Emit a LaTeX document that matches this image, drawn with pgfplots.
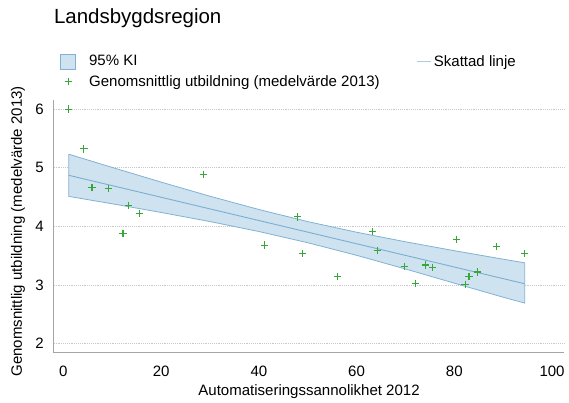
\documentclass[border=0pt]{standalone}
\usepackage{fontspec}
\setmainfont{Liberation Sans}
\usepackage{pgfplots}
\pgfplotsset{compat=1.18}

\definecolor{bandfill}{RGB}{207,226,239}
\definecolor{bandedge}{RGB}{128,178,213}
\definecolor{fitline}{RGB}{125,175,210}
\definecolor{legline}{RGB}{170,205,230}
\definecolor{dotgreen}{RGB}{55,165,55}
\definecolor{gridgray}{RGB}{200,200,200}
\definecolor{axisgray}{RGB}{165,165,165}

\begin{document}
\begin{tikzpicture}
\begin{axis}[
  scale only axis,
  width=384pt, height=190.5pt,
  xmin=-1.96, xmax=102.5,
  ymin=1.84, ymax=6.16,
  axis x line=bottom, axis y line=left,
  axis line style={-, axisgray, line width=0.8pt},
  xtick={0,20,40,60,80,100},
  ytick={2,3,4,5,6},
  major tick length=0pt,
  ymajorgrids,
  grid style={gridgray, densely dotted, line width=0.6pt},
  tick label style={font=\fontsize{11.3}{13}\selectfont, black},
  xticklabel style={yshift=-6pt},
  yticklabel style={xshift=-4pt},
  /pgf/number format/assume math mode=true,
  xlabel={Automatiseringssannolikhet 2012},
  ylabel={Genomsnittlig utbildning (medelvärde 2013)},
  every axis x label/.style={at={(rel axis cs:0.5,0)}, yshift=-29pt,
    anchor=center, font=\fontsize{11.3}{13}\selectfont},
  every axis y label/.style={at={(rel axis cs:0,0.48)}, xshift=-27pt,
    rotate=90, anchor=center, font=\fontsize{11.3}{13}\selectfont},
  legend columns=2,
  legend cell align=left,
  legend style={draw=none, fill=none, inner sep=0pt, outer sep=0pt,
    at={(rel axis cs:0,1)}, anchor=north west, xshift=5pt, yshift=35.5pt,
    font=\fontsize{11.3}{13}\selectfont,
    /tikz/every even column/.append style={column sep=26pt},
    row sep=1.5pt},
  clip=false,
]
% 95% confidence band
\addplot[fill=bandfill, draw=bandedge, line width=0.6pt,
  legend image code/.code={
    \draw[fill=bandfill, draw=bandedge, line width=0.5pt]
      (0pt,-5.5pt) rectangle (11pt,5.5pt);
    \path (19pt,0pt);}]
  coordinates {
  (1.1,5.23) (10,5.004) (20,4.754) (30,4.513) (40,4.287) (50,4.080)
  (60,3.899) (70,3.736) (80,3.584) (90,3.439) (94.4,3.377)
  (94.4,2.69) (90,2.79) (80,3.03) (70,3.272) (60,3.505) (50,3.720)
  (40,3.911) (30,4.081) (20,4.236) (10,4.384) (1.1,4.51) (1.1,5.23)
  };
\addlegendentry{95\% KI}
% fitted line
\addplot[fitline, line width=0.7pt, no marks,
  legend image code/.code={
    \draw[legline, line width=0.8pt] (0pt,0pt) -- (10pt,0pt);}]
  coordinates {(1.1,4.87) (94.4,3.02)};
\addlegendentry{Skattad linje}
% observed averages
\addplot[only marks, mark=+, mark size=2.7pt, color=dotgreen,
  mark options={draw=dotgreen, solid, line width=0.8pt},
  legend image code/.code={
    \draw[dotgreen, line width=0.7pt] (5.5pt,-2.7pt) -- (5.5pt,2.7pt)
      (2.8pt,0pt) -- (8.2pt,0pt);
    \path (19pt,0pt);}]
  coordinates {
  (1.1,6.00) (4.2,5.32) (5.85,4.66) (9.25,4.65) (13.3,4.35) (12.2,3.88)
  (15.6,4.22) (28.6,4.89) (47.9,4.16) (41.2,3.68) (49.0,3.54)
  (56.1,3.14) (63.3,3.91) (64.2,3.59) (69.8,3.32) (72.0,3.02)
  (74.1,3.34) (75.6,3.30) (80.5,3.78) (82.2,3.01) (83.0,3.15)
  (84.7,3.22) (88.6,3.66) (94.4,3.54)
  };
\addlegendentry{Genomsnittlig utbildning (medelvärde 2013)}
\node[anchor=west, font=\fontsize{15.4}{18}\selectfont, inner sep=0pt]
  at ([yshift=61.5pt]rel axis cs:0,1) {Landsbygdsregion};
% page frame
\path ([xshift=-40.5pt,yshift=-35.25pt]rel axis cs:0,0)
  rectangle ([xshift=2.25pt,yshift=75pt]rel axis cs:1,1);
\end{axis}
\end{tikzpicture}
\end{document}
